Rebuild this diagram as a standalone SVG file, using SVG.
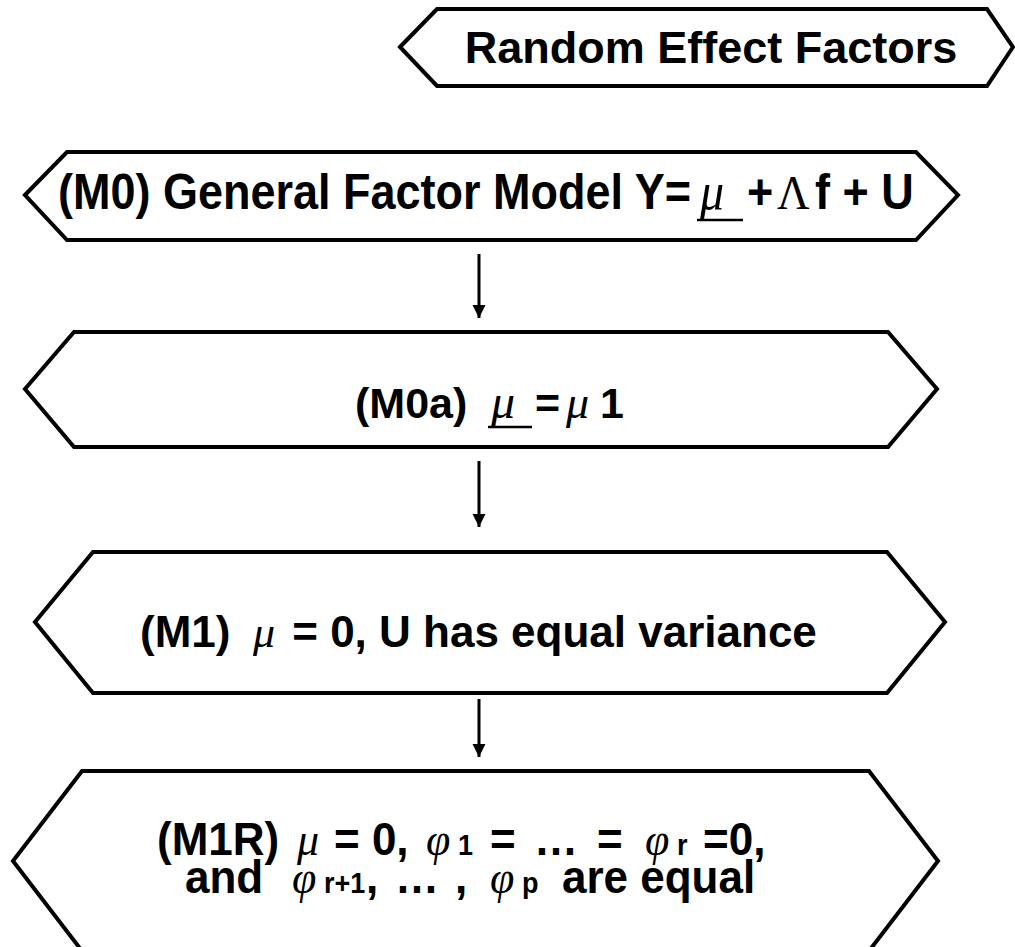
<svg xmlns="http://www.w3.org/2000/svg" width="1015" height="947" viewBox="0 0 1015 947">
<defs>
<style>
.hex{fill:#fff;stroke:#000;stroke-width:4;stroke-linejoin:miter}
.t{font-family:"Liberation Sans",Arial,sans-serif;font-weight:bold;fill:#000;white-space:pre}
.m{text-anchor:middle}
.g{font-family:"Liberation Serif","Times New Roman",serif;font-style:italic;font-weight:normal}
.G{font-family:"Liberation Serif","Times New Roman",serif;font-weight:normal}
.s{font-size:27px}
.ul{stroke:#000;stroke-width:2.5}
.conn line{stroke:#000;stroke-width:3}
</style>
<marker id="ah" viewBox="0 0 10 10" refX="10" refY="5" markerWidth="4.5" markerHeight="4.5" markerUnits="strokeWidth" orient="auto">
<path d="M0,0 L10,5 L0,10 z" fill="#000"/>
</marker>
</defs>
<rect width="1015" height="947" fill="#fff"/>
<g id="random-effect-factors">
<polygon class="hex" points="400,47 437,9 987,9 1013,47 987,86 437,86"/>
<text class="t m" x="711" y="63" font-size="45">Random Effect Factors</text>
</g>
<g id="m0">
<polygon class="hex" points="25,195 67,152 916,152 958,195 916,240 67,240"/>
<text class="t" transform="translate(0,209) scale(1,1.1)" y="0" font-size="45"><tspan x="58">(M0) General Factor Model Y=</tspan><tspan class="g" x="700" font-size="48">μ</tspan><tspan x="747">+</tspan><tspan class="G" x="777">Λ</tspan><tspan x="815" xml:space="preserve">f + U</tspan></text>
<line class="ul" x1="697" y1="220" x2="743" y2="220"/>
</g>
<g id="m0a">
<polygon class="hex" points="25,389 74,332 888,332 937,389 888,447 74,447"/>
<text class="t" y="418" font-size="43"><tspan x="355">(M0a)</tspan><tspan class="g" x="491" font-size="48">μ</tspan><tspan x="535">=</tspan><tspan class="g" x="566" font-size="46">μ</tspan><tspan x="600">1</tspan></text>
<line class="ul" x1="488" y1="427" x2="532" y2="427"/>
</g>
<g id="m1">
<polygon class="hex" points="35,622 93,552 887,552 945,622 887,693 93,693"/>
<text class="t" y="647" font-size="44"><tspan x="140">(M1)</tspan><tspan class="g" x="253">μ</tspan><tspan x="280" xml:space="preserve"> = 0, U has equal variance</tspan></text>
</g>
<g id="m1r">
<polygon class="hex" points="13,861 82,771 869,771 938,861 869,951 82,951"/>
<text class="t" xml:space="preserve" transform="translate(0,855) scale(1,1.06)" y="0" font-size="44"><tspan x="157">(M1R)</tspan><tspan class="g" x="297">μ</tspan><tspan x="334">= 0,</tspan><tspan class="g" x="426">φ</tspan><tspan class="s" x="458">1</tspan><tspan x="490">=</tspan><tspan x="534">…</tspan><tspan x="597">=</tspan><tspan class="g" x="645">φ</tspan><tspan class="s" x="677">r</tspan><tspan x="703">=0,</tspan></text>
<text class="t" xml:space="preserve" transform="translate(0,893) scale(1,1.06)" y="0" font-size="44"><tspan x="185">and</tspan><tspan class="g" x="292">φ</tspan><tspan class="s" x="324">r+1</tspan><tspan x="366">,</tspan><tspan x="395">…</tspan><tspan x="455">,</tspan><tspan class="g" x="490">φ</tspan><tspan class="s" x="522">p</tspan><tspan x="562">are equal</tspan></text>
</g>
<g id="connectors" class="conn">
<line x1="479" y1="254" x2="479" y2="318" marker-end="url(#ah)"/>
<line x1="479" y1="461" x2="479" y2="527" marker-end="url(#ah)"/>
<line x1="479" y1="699" x2="479" y2="757" marker-end="url(#ah)"/>
</g>
</svg>
